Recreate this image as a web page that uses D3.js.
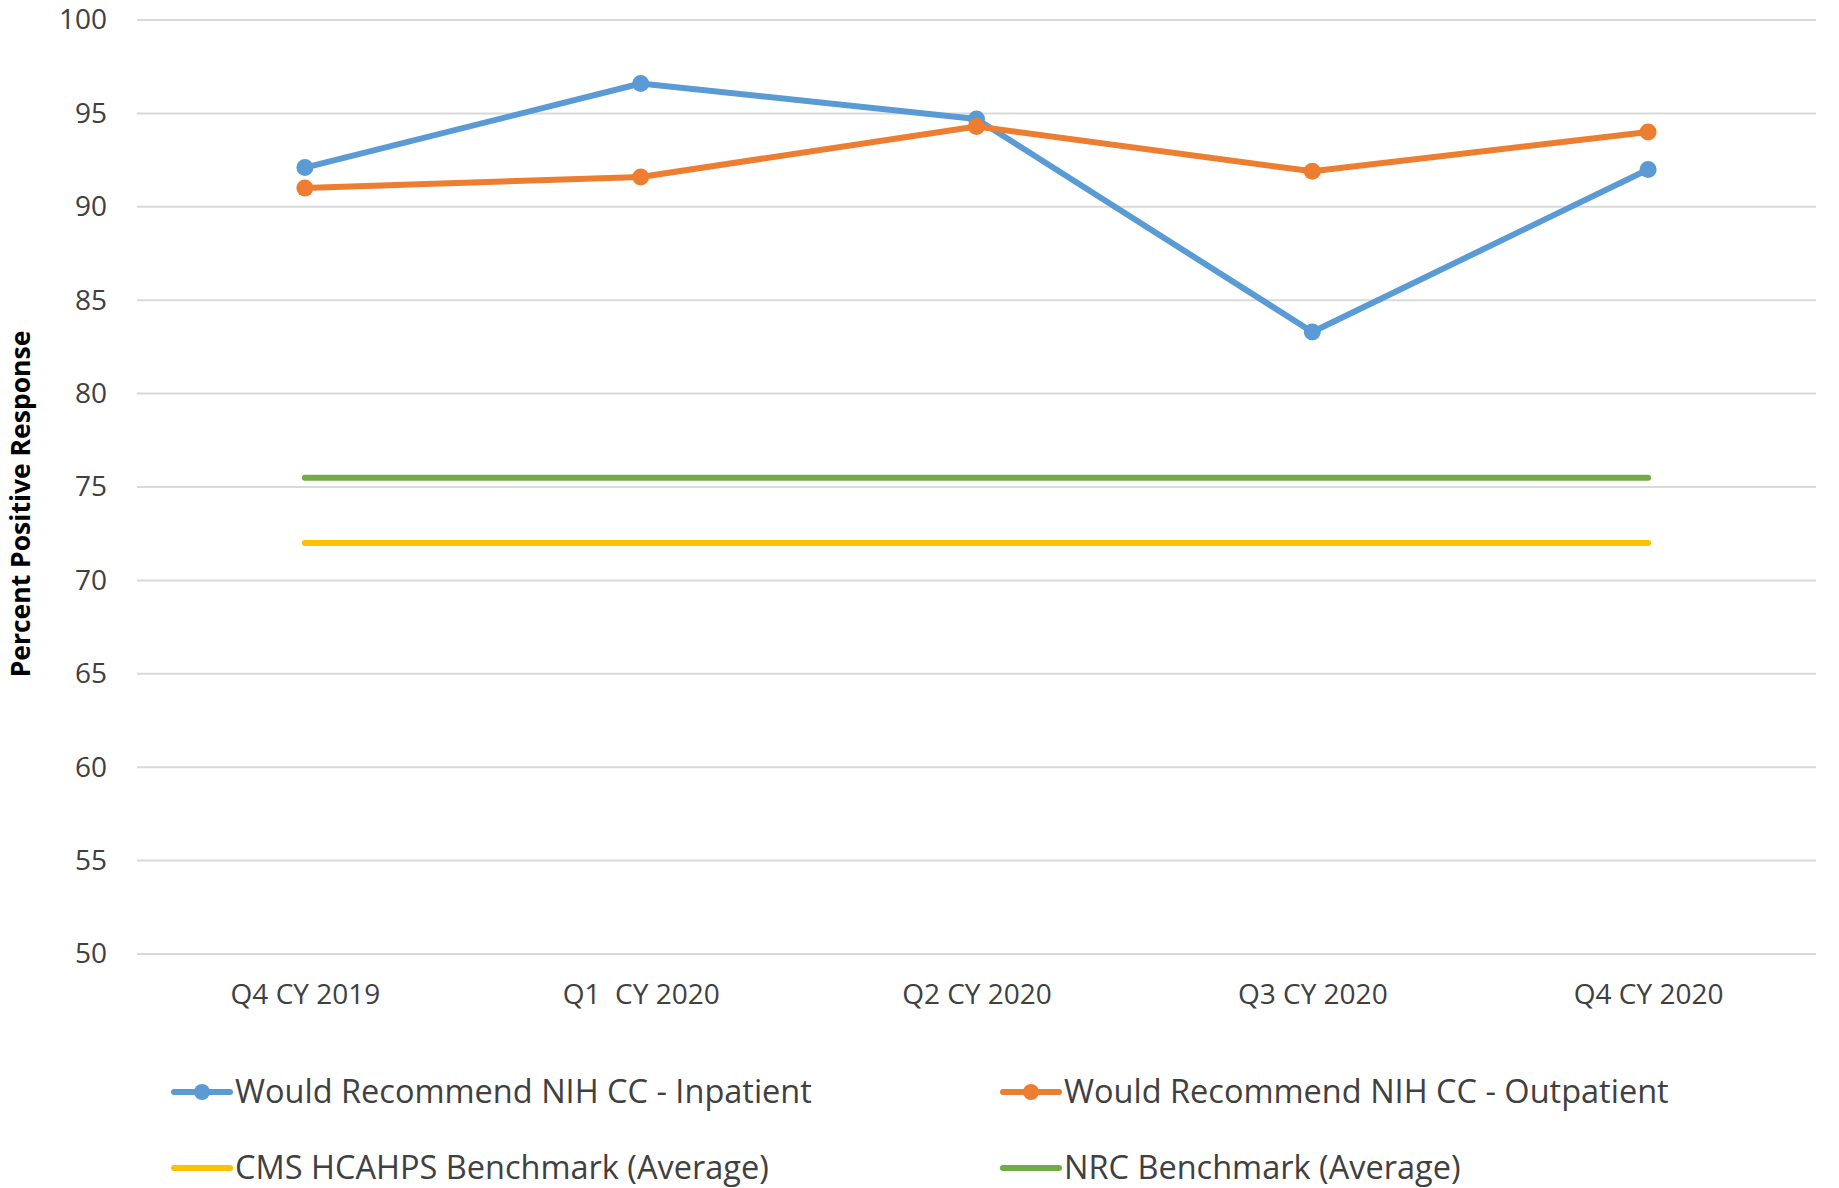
<!DOCTYPE html>
<html>
<head>
<meta charset="utf-8">
<script src="https://cdn.jsdelivr.net/npm/d3@7"></script>
<style>
  body { margin: 0; background: #fff; }
  text { font-family: "Open Sans", sans-serif; fill: #404040; }
</style>
</head>
<body>
<div id="chart"></div>
<script>
// quarters on the x axis
var categories = ["Q4 CY 2019", "Q1  CY 2020", "Q2 CY 2020", "Q3 CY 2020", "Q4 CY 2020"];

// series values (percent positive)
var inpatient = [92.1, 96.6, 94.7, 83.3, 92.0];
var outpatient = [91.0, 91.6, 94.3, 91.9, 94.0];
var cmsBenchmark = [72, 72, 72, 72, 72];
var nrcBenchmark = [75.5, 75.5, 75.5, 75.5, 75.5];

var yTicks = [50, 55, 60, 65, 70, 75, 80, 85, 90, 95, 100];

var series = [
    {name: "Would Recommend NIH CC - Inpatient", values: inpatient, color: "#5B9BD5", marker: true},
    {name: "Would Recommend NIH CC - Outpatient", values: outpatient, color: "#ED7D31", marker: true},
    {name: "CMS HCAHPS Benchmark (Average)", values: cmsBenchmark, color: "#FFC000", marker: false},
    {name: "NRC Benchmark (Average)", values: nrcBenchmark, color: "#70AD47", marker: false}
];

const W = 1839, H = 1188;
const margin = {top: 20, right: 23, bottom: 234, left: 137};
const width = W - margin.left - margin.right,
      height = H - margin.top - margin.bottom;

const svg = d3.select("#chart")
    .append("svg")
    .attr("width", W)
    .attr("height", H)
    .append("g")
    .attr("transform", `translate(${margin.left},${margin.top})`);

// scales
const xScale = d3.scalePoint()
    .domain(categories)
    .range([0, width])
    .padding(0.5);

const yScale = d3.scaleLinear()
    .domain([50, 100])
    .range([height, 0]);

// gridlines
svg.selectAll(".grid")
    .data(yTicks)
    .join("line")
    .attr("class", "grid")
    .attr("x1", 0)
    .attr("x2", width)
    .attr("y1", d => yScale(d))
    .attr("y2", d => yScale(d))
    .attr("stroke", "#d9d9d9")
    .attr("stroke-width", 2);

// y axis labels
const yAxis = d3.axisLeft(yScale).tickValues(yTicks).tickSize(0).tickPadding(30);
const yAxisGroup = svg.append("g").attr("class", "y-axis").call(yAxis);
yAxisGroup.select(".domain").remove();
yAxisGroup.selectAll("text")
    .attr("font-size", 28)
    .style("font-family", "'Open Sans', sans-serif")
    .attr("fill", "#404040");

// x axis labels
const xAxis = d3.axisBottom(xScale).tickSize(0).tickPadding(30);
const xAxisGroup = svg.append("g")
    .attr("class", "x-axis")
    .attr("transform", `translate(0, ${height})`)
    .call(xAxis);
xAxisGroup.select(".domain").remove();
xAxisGroup.selectAll("text")
    .attr("font-size", 28)
    .style("font-family", "'Open Sans', sans-serif")
    .attr("fill", "#404040")
    .attr("xml:space", "preserve")
    .style("white-space", "pre");

// y axis title
svg.append("text")
    .attr("transform", "rotate(-90)")
    .attr("x", -(yScale(75)) - 17)
    .attr("y", -margin.left + 30)
    .attr("text-anchor", "middle")
    .attr("font-size", 26.5)
    .attr("font-weight", "bold")
    .style("fill", "#000")
    .text("Percent Positive Response");

// lines (benchmarks first so data lines sit on top)
const line = d3.line()
    .x((d, i) => xScale(categories[i]))
    .y(d => yScale(d));

const drawOrder = [series[2], series[3], series[0], series[1]];

svg.selectAll(".series")
    .data(drawOrder)
    .join("path")
    .attr("class", "series")
    .attr("fill", "none")
    .attr("stroke", d => d.color)
    .attr("stroke-width", 6)
    .attr("stroke-linecap", "round")
    .attr("stroke-linejoin", "round")
    .attr("d", d => line(d.values));

drawOrder.filter(d => d.marker).forEach(function(s) {
    svg.selectAll(null)
        .data(s.values)
        .join("circle")
        .attr("cx", (d, i) => xScale(categories[i]))
        .attr("cy", d => yScale(d))
        .attr("r", 8.5)
        .attr("fill", s.color);
});

// legend
const legendPos = [[174, 1092], [1003, 1092], [174, 1168], [1003, 1168]];
const legend = d3.select("#chart svg").append("g").attr("class", "legend");

series.forEach(function(s, i) {
    const g = legend.append("g")
        .attr("transform", `translate(${legendPos[i][0]},${legendPos[i][1]})`);
    g.append("line")
        .attr("x1", 0).attr("x2", 56)
        .attr("y1", 0).attr("y2", 0)
        .attr("stroke", s.color)
        .attr("stroke-width", 6)
        .attr("stroke-linecap", "round");
    if (s.marker) {
        g.append("circle").attr("cx", 28).attr("cy", 0).attr("r", 8).attr("fill", s.color);
    }
    g.append("text")
        .attr("x", 61)
        .attr("y", 0)
        .attr("dy", "0.35em")
        .attr("font-size", 32.5)
        .text(s.name);
});
</script>
</body>
</html>
